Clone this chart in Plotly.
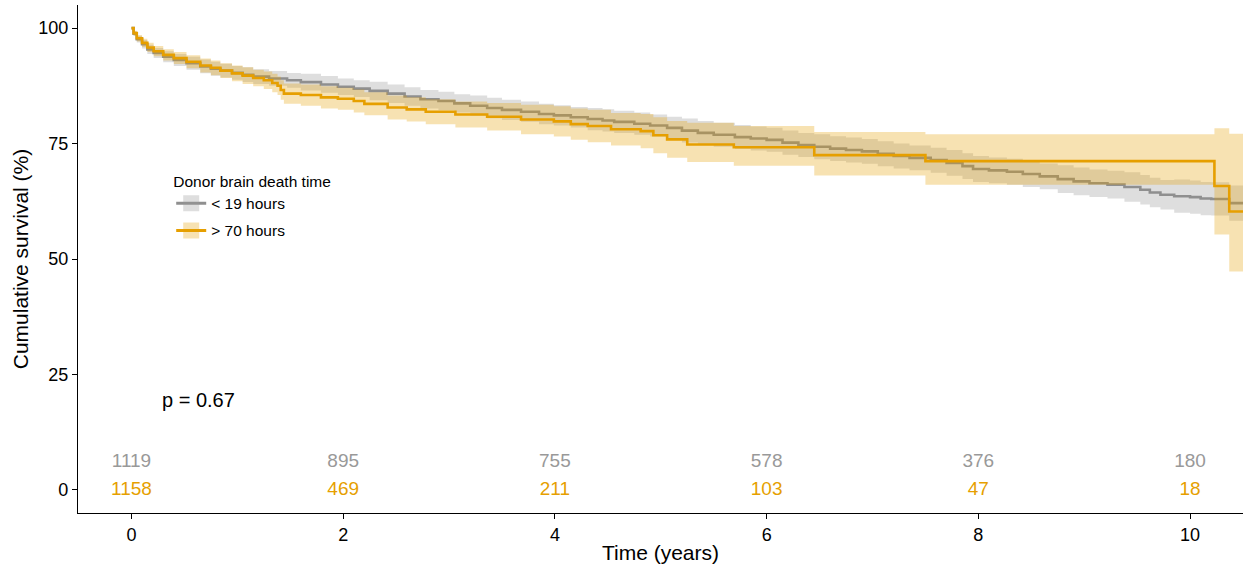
import plotly.graph_objects as go

# ---------------- data ----------------
group_names = ["< 19 hours", "> 70 hours"]
legend_title = "Donor brain death time"

# < 19 hours : Kaplan-Meier estimate (%), with 95% CI
grey_time = [0, 0.02, 0.05, 0.1, 0.15, 0.21, 0.3, 0.4, 0.52, 0.65, 0.75, 0.84, 0.95, 1.05,
             1.15, 1.3, 1.47, 1.6, 1.79, 1.95, 2.1, 2.25, 2.42, 2.58, 2.73, 2.9, 3.05, 3.2,
             3.36, 3.5, 3.68, 3.85, 3.99, 4.15, 4.31, 4.45, 4.56, 4.75, 4.9, 5.06, 5.2, 5.35,
             5.5, 5.7, 5.85, 6.0, 6.15, 6.3, 6.45, 6.6, 6.75, 6.9, 7.05, 7.2, 7.35, 7.55,
             7.7, 7.85, 7.95, 8.1, 8.27, 8.42, 8.58, 8.75, 8.9, 9.05, 9.22, 9.38, 9.53, 9.62,
             9.72, 9.85, 10.0, 10.1, 10.2, 10.37, 10.5]
grey_surv = [100, 98.8, 97.6, 96.5, 95.4, 94.6, 93.8, 93.1, 92.4, 91.7, 91.2, 90.8, 90.3, 89.9,
             89.5, 89.1, 88.7, 88.3, 87.8, 87.3, 86.9, 86.4, 85.8, 85.2, 84.6, 84.2, 83.7, 83.2,
             82.7, 82.3, 81.9, 81.4, 81.1, 80.7, 80.3, 80.0, 79.7, 79.3, 78.9, 78.4, 77.8, 77.3,
             76.9, 76.4, 76.1, 75.8, 75.2, 74.7, 74.3, 73.9, 73.6, 73.3, 72.8, 72.3, 71.9, 71.4,
             70.8, 70.1, 69.5, 69.2, 68.9, 68.4, 67.9, 67.3, 66.8, 66.4, 66.1, 65.6, 65.0, 64.4,
             63.9, 63.6, 63.4, 63.1, 63.0, 62.1, 62.1]
grey_lower = [100, 98.3, 96.9, 95.6, 94.4, 93.5, 92.6, 91.8, 91.0, 90.2, 89.7, 89.3, 88.8, 88.3,
              87.9, 87.5, 87.1, 86.5, 86.0, 85.5, 85.1, 84.4, 83.8, 83.2, 82.6, 82.2, 81.7, 81.0,
              80.5, 80.1, 79.7, 79.2, 78.9, 78.5, 77.9, 77.6, 77.3, 76.9, 76.5, 76.0, 75.2, 74.7,
              74.3, 73.8, 73.5, 73.2, 72.6, 72.1, 71.6, 71.2, 70.9, 70.6, 70.1, 69.6, 69.2, 68.7,
              68.0, 67.3, 66.7, 66.4, 66.1, 65.6, 65.1, 64.3, 63.8, 63.4, 63.1, 62.4, 61.8, 61.2,
              60.7, 60.0, 59.8, 59.5, 59.4, 58.3, 58.3]
grey_upper = [100, 99.3, 98.3, 97.4, 96.4, 95.7, 95.0, 94.4, 93.8, 93.2, 92.7, 92.3, 91.8, 91.5,
              91.1, 90.7, 90.3, 90.1, 89.6, 89.1, 88.7, 88.4, 87.8, 87.2, 86.6, 86.2, 85.7, 85.4,
              84.9, 84.5, 84.1, 83.6, 83.3, 82.9, 82.7, 82.4, 82.1, 81.7, 81.3, 80.8, 80.4, 79.9,
              79.5, 79.0, 78.7, 78.4, 77.8, 77.3, 77.0, 76.6, 76.3, 76.0, 75.5, 75.0, 74.6, 74.1,
              73.6, 72.9, 72.3, 72.0, 71.7, 71.2, 70.7, 70.3, 69.8, 69.4, 69.1, 68.8, 68.2, 67.6,
              67.1, 67.2, 67.0, 66.7, 66.6, 65.9, 65.9]

# > 70 hours
orange_time = [0, 0.02, 0.05, 0.1, 0.15, 0.21, 0.3, 0.4, 0.52, 0.65, 0.75, 0.84, 0.95, 1.05,
               1.15, 1.25, 1.33, 1.38, 1.41, 1.44, 1.6, 1.79, 1.95, 2.1, 2.2, 2.42, 2.6, 2.78,
               3.06, 3.36, 3.68, 3.99, 4.15, 4.31, 4.53, 4.81, 4.93, 5.06, 5.25, 5.69, 6.45,
               7.5, 10.23, 10.37, 10.5]
orange_surv = [100, 98.9, 97.8, 96.8, 95.8, 95.0, 94.2, 93.5, 92.7, 91.9, 91.4, 90.8, 90.2, 89.7,
               89.2, 88.7, 88.1, 87.5, 86.6, 85.8, 85.5, 85.0, 84.7, 84.2, 83.6, 82.8, 82.4, 81.9,
               81.3, 80.8, 80.2, 79.8, 79.2, 78.8, 78.1, 77.7, 76.8, 75.9, 74.8, 74.2, 72.5,
               71.2, 65.8, 60.3, 60.3]
orange_lower = [100, 98.4, 97.1, 95.9, 94.8, 93.9, 93.0, 92.2, 91.3, 90.4, 89.8, 89.2, 88.5, 87.9,
                87.4, 86.8, 86.1, 85.5, 84.5, 83.6, 83.2, 82.6, 82.3, 81.7, 81.1, 80.2, 79.8, 79.2,
                78.5, 77.8, 77.0, 76.5, 75.8, 75.3, 74.6, 74.0, 72.9, 71.9, 71.0, 70.2, 68.1,
                66.1, 55.3, 47.3, 47.3]
orange_upper = [100, 99.4, 98.5, 97.7, 96.8, 96.1, 95.4, 94.8, 94.1, 93.4, 93.0, 92.4, 91.9, 91.5,
                91.0, 90.6, 90.1, 89.5, 88.7, 88.0, 87.8, 87.4, 87.1, 86.7, 86.1, 85.4, 85.0, 84.6,
                84.1, 83.8, 83.4, 83.1, 82.6, 82.3, 81.6, 81.4, 80.7, 79.9, 79.5, 78.8, 77.5,
                77.0, 78.3, 77.1, 77.1]

# numbers at risk
risk_times = [0, 2, 4, 6, 8, 10]
grey_at_risk = [1119, 895, 755, 578, 376, 180]
orange_at_risk = [1158, 469, 211, 103, 47, 18]

p_label = "p = 0.67"
x_ticks = [0, 2, 4, 6, 8, 10]
y_ticks = [0, 25, 50, 75, 100]

# ---------------- style ----------------
FONT = "Liberation Sans, Arial, Helvetica, sans-serif"
GREY = "#8f8f8f"
GREY_TXT = "#999999"
GREY_FILL = "rgba(153,153,153,0.32)"
ORANGE = "#E69F00"
ORANGE_FILL = "rgba(230,159,0,0.3)"

fig = go.Figure()


def add_group(t, s, lo, hi, line_col, fill_col):
    fig.add_trace(go.Scatter(x=t, y=lo, mode="lines", line=dict(width=0, shape="hv"),
                             showlegend=False, hoverinfo="skip"))
    fig.add_trace(go.Scatter(x=t, y=hi, mode="lines", line=dict(width=0, shape="hv"),
                             fill="tonexty", fillcolor=fill_col,
                             showlegend=False, hoverinfo="skip"))
    fig.add_trace(go.Scatter(x=t, y=s, mode="lines",
                             line=dict(color=line_col, width=2.6, shape="hv"),
                             showlegend=False))


add_group(grey_time, grey_surv, grey_lower, grey_upper, GREY, GREY_FILL)
add_group(orange_time, orange_surv, orange_lower, orange_upper, ORANGE, ORANGE_FILL)

# legend entries (key = translucent square with the line through it)
for i, (name, lc, fc) in enumerate([(group_names[0], GREY, GREY_FILL),
                                    (group_names[1], ORANGE, ORANGE_FILL)]):
    fig.add_trace(go.Scatter(x=[None], y=[None], mode="lines+markers", name=name,
                             legendgroup="g%d" % i,
                             line=dict(color=lc, width=3),
                             marker=dict(symbol="square", size=16, color=fc,
                                         line=dict(width=0))))

# numbers at risk
fig.add_trace(go.Scatter(x=risk_times, y=[6] * len(risk_times), mode="text",
                         text=[str(v) for v in grey_at_risk],
                         textfont=dict(family=FONT, size=19, color=GREY_TXT),
                         showlegend=False, hoverinfo="skip"))
fig.add_trace(go.Scatter(x=risk_times, y=[0] * len(risk_times), mode="text",
                         text=[str(v) for v in orange_at_risk],
                         textfont=dict(family=FONT, size=19, color=ORANGE),
                         showlegend=False, hoverinfo="skip"))

fig.add_annotation(x=0.27, y=19.5, xref="x", yref="y", text=p_label, showarrow=False,
                   xanchor="left", yanchor="middle", font=dict(family=FONT, size=20, color="black"))

axis_common = dict(showline=True, linecolor="black", linewidth=1.3, ticks="outside",
                   ticklen=5, tickwidth=1.2, tickcolor="black", showgrid=False, zeroline=False,
                   tickfont=dict(family=FONT, size=18, color="black"))

fig.update_layout(
    width=1250, height=570,
    margin=dict(l=78, r=7, t=5, b=57),
    paper_bgcolor="white", plot_bgcolor="white",
    font=dict(family=FONT, color="black"),
    xaxis=dict(range=[-0.505, 10.5], tickvals=x_ticks, ticktext=[str(v) for v in x_ticks],
               title=dict(text="Time (years)", font=dict(family=FONT, size=21), standoff=1),
               **axis_common),
    yaxis=dict(range=[-5, 105], tickvals=y_ticks, ticktext=[str(v) for v in y_ticks],
               title=dict(text="Cumulative survival (%)", font=dict(family=FONT, size=21), standoff=3),
               **axis_common),
    legend=dict(x=0.080, y=0.682, xanchor="left", yanchor="top",
                title=dict(text=legend_title, font=dict(family=FONT, size=15.5)),
                font=dict(family=FONT, size=15.5), bgcolor="rgba(0,0,0,0)",
                itemwidth=30, tracegroupgap=4, traceorder="grouped"),
    showlegend=True,
)

fig.write_html("out.html")
